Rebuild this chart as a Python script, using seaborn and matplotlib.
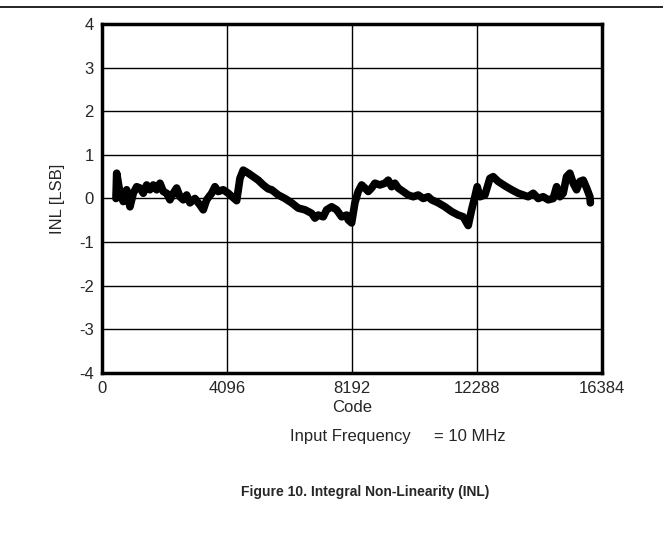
import matplotlib
matplotlib.use("Agg")
import matplotlib.pyplot as plt
import seaborn as sns
import pandas as pd

# INL curve (code, LSB)
codes = [459, 482, 590, 698, 809, 918, 1026, 1137, 1245, 1353, 1465, 1573,
         1681, 1792, 1901, 2009, 2120, 2228, 2336, 2448, 2556, 2664, 2775,
         2884, 3047, 3211, 3319, 3431, 3595, 3703, 3811, 3975, 4139, 4250,
         4414, 4522, 4630, 4794, 4958, 5122, 5286, 5449, 5561, 5777, 5997,
         6216, 6432, 6652, 6872, 6980, 7088, 7252, 7363, 7527, 7691, 7855,
         8018, 8071, 8182, 8290, 8398, 8510, 8618, 8726, 8837, 8946, 9109,
         9273, 9382, 9493, 9601, 9709, 9873, 10037, 10201, 10365, 10528,
         10692, 10804, 11020, 11239, 11459, 11675, 11839, 12003, 12114,
         12222, 12298, 12386, 12550, 12714, 12822, 12986, 13206, 13425,
         13642, 13806, 13969, 14133, 14297, 14461, 14625, 14789, 14900,
         15008, 15116, 15227, 15335, 15444, 15555, 15663, 15772, 15883,
         15991, 16007]
inl = [0.0, 0.58, 0.12, -0.07, 0.2, -0.19, 0.12, 0.27, 0.24, 0.12, 0.31, 0.2,
       0.31, 0.2, 0.35, 0.16, 0.12, -0.03, 0.12, 0.24, 0.04, -0.03, 0.08,
       -0.1, 0.0, -0.15, -0.26, -0.03, 0.12, 0.27, 0.16, 0.2, 0.12, 0.05,
       -0.05, 0.46, 0.65, 0.58, 0.5, 0.42, 0.31, 0.22, 0.2, 0.08, 0.0,
       -0.1, -0.22, -0.26, -0.34, -0.45, -0.38, -0.42, -0.26, -0.19, -0.26, -0.42,
       -0.38, -0.49, -0.56, -0.1, 0.16, 0.31, 0.24, 0.16, 0.24, 0.35, 0.31,
       0.35, 0.42, 0.27, 0.35, 0.24, 0.16, 0.08, 0.04, 0.08, 0.0,
       0.04, -0.03, -0.1, -0.19, -0.3, -0.38, -0.42, -0.62, -0.26,
       0.04, 0.27, 0.04, 0.08, 0.46, 0.5, 0.39, 0.29, 0.2,
       0.12, 0.08, 0.04, 0.12, 0.0, 0.04, -0.03, 0.0, 0.27,
       0.04, 0.12, 0.5, 0.58, 0.35, 0.2, 0.39, 0.42, 0.24,
       0.04, -0.1]

x_ticks = [0, 4096, 8192, 12288, 16384]
y_ticks = [-4, -3, -2, -1, 0, 1, 2, 3, 4]

df = pd.DataFrame({"Code": codes, "INL": inl})

sns.set_style("white")
plt.rcParams["font.family"] = ["Liberation Sans", "DejaVu Sans"]

fig = plt.figure(figsize=(6.63, 5.34), dpi=100)
ax = fig.add_axes([0.1538, 0.3015, 0.754, 0.6536])

sns.lineplot(data=df, x="Code", y="INL", ax=ax, color="black", linewidth=5.5,
             sort=False, estimator=None)

ax.set_xlim(0, 16384)
ax.set_ylim(-4, 4)
ax.set_xticks(x_ticks)
ax.set_yticks(y_ticks)
ax.set_xticklabels([str(t) for t in x_ticks], fontsize=12)
ax.set_yticklabels([str(t) for t in y_ticks], fontsize=12)
ax.tick_params(length=0, pad=6)
ax.grid(True, color="black", linewidth=1.0)
ax.set_axisbelow(True)
for s in ax.spines.values():
    s.set_linewidth(2.5)
    s.set_color("black")

ax.set_xlabel("Code", fontsize=12, labelpad=3)
ax.set_ylabel("INL [LSB]", fontsize=12, labelpad=10)

fig.text(0.437, 0.182, "Input Frequency", fontsize=12, ha="left", va="center")
fig.text(0.655, 0.182, "= 10 MHz", fontsize=12, ha="left", va="center")
fig.text(0.551, 0.079, "Figure 10. Integral Non-Linearity (INL)", fontsize=10,
         fontweight="bold", ha="center", va="center")

# separator rule at the top of the page
fig.add_artist(plt.Line2D([0, 1], [0.987, 0.987], color="black", linewidth=1.2,
                          transform=fig.transFigure))

fig.savefig("out.png", dpi=100)
